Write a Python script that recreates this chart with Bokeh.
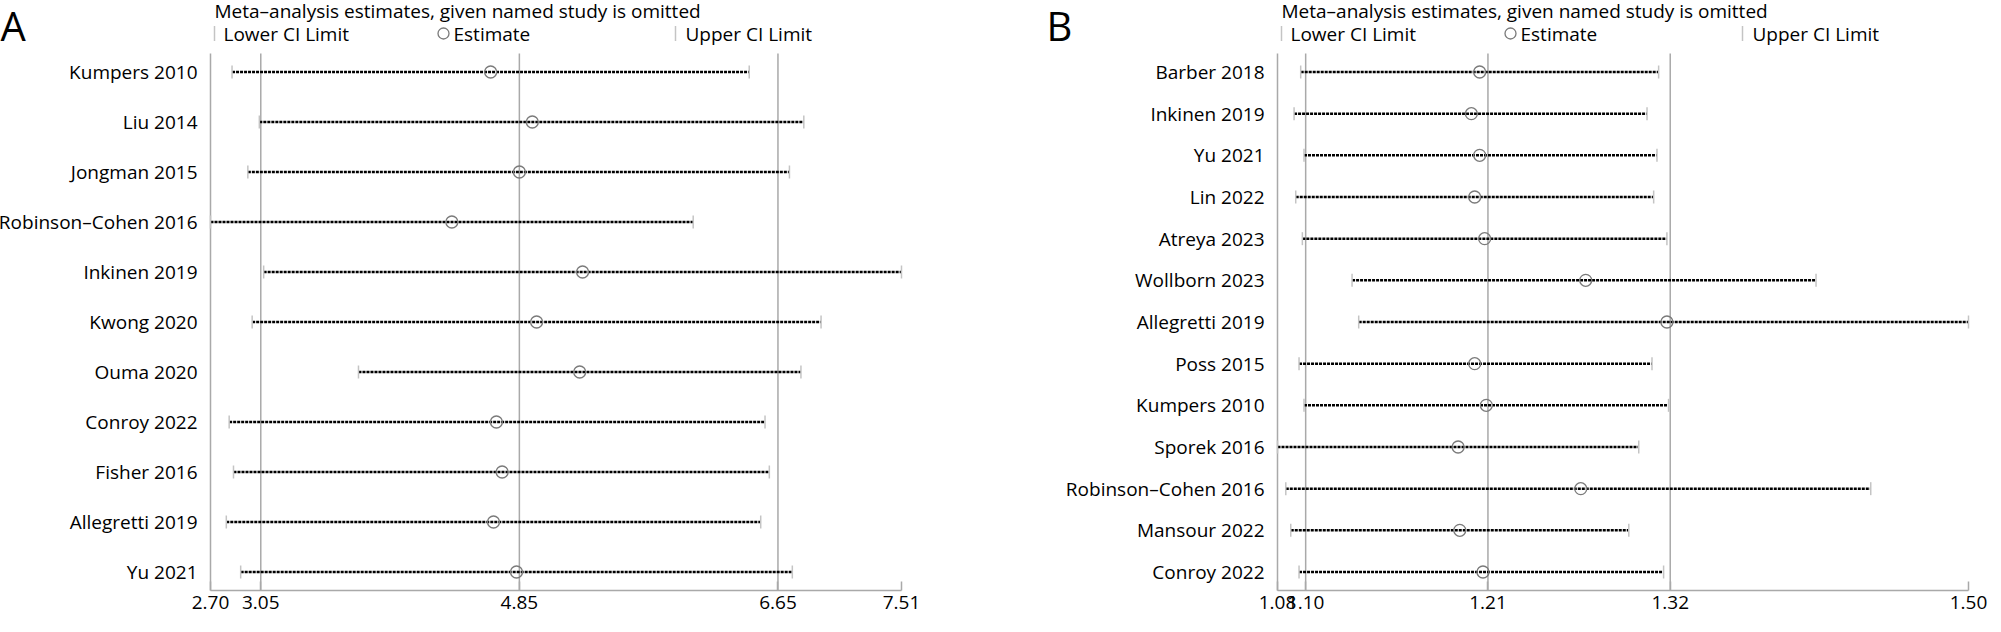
import math
from bokeh.plotting import figure
from bokeh.models import Range1d, FixedTicker, PrintfTickFormatter
from bokeh.core.properties import value
from bokeh.layouts import row
from bokeh.embed import file_html
from bokeh.resources import INLINE

FONT = "Open Sans"

# ---------------- data ----------------
title_text = "Meta\u2013analysis estimates, given named study is omitted"
legend_labels = ["Lower CI Limit", "Estimate", "Upper CI Limit"]

a_studies = ["Kumpers 2010", "Liu 2014", "Jongman 2015", "Robinson\u2013Cohen 2016",
             "Inkinen 2019", "Kwong 2020", "Ouma 2020", "Conroy 2022",
             "Fisher 2016", "Allegretti 2019", "Yu 2021"]
a_lower = [2.85, 3.04, 2.96, 2.70, 3.07, 2.99, 3.73, 2.83, 2.86, 2.81, 2.91]
a_est = [4.65, 4.94, 4.85, 4.38, 5.29, 4.97, 5.27, 4.69, 4.73, 4.67, 4.83]
a_upper = [6.45, 6.83, 6.73, 6.06, 7.51, 6.95, 6.81, 6.56, 6.59, 6.53, 6.75]
a_overall = [3.05, 4.85, 6.65]

b_studies = ["Barber 2018", "Inkinen 2019", "Yu 2021", "Lin 2022", "Atreya 2023",
             "Wollborn 2023", "Allegretti 2019", "Poss 2015", "Kumpers 2010",
             "Sporek 2016", "Robinson\u2013Cohen 2016", "Mansour 2022", "Conroy 2022"]
b_lower = [1.097, 1.093, 1.099, 1.094, 1.098, 1.128, 1.132, 1.096, 1.099, 1.083, 1.088, 1.091, 1.096]
b_est = [1.205, 1.200, 1.205, 1.202, 1.208, 1.269, 1.318, 1.202, 1.209, 1.192, 1.266, 1.193, 1.207]
b_upper = [1.313, 1.306, 1.312, 1.310, 1.318, 1.408, 1.500, 1.309, 1.319, 1.301, 1.441, 1.295, 1.316]
b_overall = [1.10, 1.21, 1.32]

GRAY_LINE = "#a9a9a9"
GRAY_CAP = "#c4c4c4"
GRAY_CIRC = "#7a7a7a"
FS = "19px"


def panel(letter, studies, lower, est, upper, overall, W, bl, letter_cx):
    n = len(studies)
    H = 632
    axis_y = 598                       # canvas y of x axis
    area_top = 61                      # canvas y of top of plot area
    area_w = 691
    pad = 18.5
    sp = (axis_y - area_top - 2 * pad) / (n - 1)
    xmin, xmax = min(lower), max(upper)
    pxu = area_w / (xmax - xmin)
    ys = list(range(n))

    def xd(cx):
        return xmin + (cx - bl) / pxu

    def yd(cy):
        return (cy - area_top - pad) / sp

    p = figure(width=W, height=H, min_border_left=0, min_border_right=0,
               min_border_top=0, min_border_bottom=0,
               x_range=Range1d(xd(0), xd(W)), y_range=Range1d(yd(H), yd(0)),
               y_axis_location=None, output_backend="svg", toolbar_location=None, title=None)
    p.grid.visible = False
    p.outline_line_color = None
    p.background_fill_color = "white"
    p.border_fill_color = "white"

    ytop, ybot = yd(area_top), yd(axis_y)

    xa = p.xaxis[0]
    xa.fixed_location = ybot
    xa.ticker = FixedTicker(ticks=[xmin] + overall + [xmax])
    xa.formatter = PrintfTickFormatter(format="%.2f")
    xa.bounds = (xmin, xmax)
    xa.axis_line_color = GRAY_LINE
    xa.axis_line_width = 1.5
    xa.major_tick_in = 9
    xa.major_tick_out = 0
    xa.major_tick_line_color = GRAY_LINE
    xa.major_tick_line_width = 1.5
    xa.minor_tick_line_color = None
    xa.major_label_text_font = FONT
    xa.major_label_text_font_size = FS
    xa.major_label_text_color = "black"
    xa.major_label_standoff = 5

    # reference lines for the overall estimate and its CI, plus left axis line
    vx = [xmin] + overall
    p.segment(x0=vx, x1=vx, y0=[ytop] * len(vx), y1=[ybot] * len(vx),
              line_color=GRAY_LINE, line_width=1.5)

    # study rows
    p.segment(x0=lower, y0=ys, x1=upper, y1=ys, line_color="black",
              line_width=2.5, line_dash="3 1")
    p.scatter(x=lower + upper, y=ys + ys, marker="dash", angle=math.pi / 2, size=13,
              line_color=GRAY_CAP, line_width=1.5)
    p.scatter(x=est, y=ys, marker="circle", size=12, fill_color=None,
              line_color=GRAY_CIRC, line_width=1.3)

    # row labels
    p.text(x=[xd(bl - 13)] * n, y=ys, text=studies, text_font=value(FONT),
           text_font_size=value(FS), text_color="black", text_align="right",
           text_baseline="middle")

    # panel letter and title
    p.text(x=[xd(letter_cx)], y=[yd(33)], text=[letter], text_font=value(FONT),
           text_font_size=value("40px"), text_color="black", text_align="left",
           text_baseline="middle")
    p.text(x=[xd(bl + 4)], y=[yd(18)], text=[title_text], text_font=value(FONT),
           text_font_size=value(FS), text_color="black", text_align="left",
           text_baseline="middle")

    # legend row
    ly = yd(41)
    p.scatter(x=[xd(bl + 4), xd(bl + 465)], y=[ly] * 2, marker="dash",
              angle=math.pi / 2, size=15, line_color=GRAY_CAP, line_width=1.5)
    p.scatter(x=[xd(bl + 233)], y=[ly], marker="circle", size=11,
              fill_color=None, line_color=GRAY_CIRC, line_width=1.3)
    p.text(x=[xd(bl + 13), xd(bl + 243), xd(bl + 475)], y=[ly] * 3,
           text=legend_labels, text_font=value(FONT), text_font_size=value(FS),
           text_color="black", text_align="left", text_baseline="middle")
    return p


pa = panel("A", a_studies, a_lower, a_est, a_upper, a_overall, 1000, 218, 8)
pb = panel("B", b_studies, b_lower, b_est, b_upper, b_overall, 1001, 285, 54)

# negative margin cancels the page's 8px body margin so the canvas covers the window
layout = row(pa, pb, margin=(-8, -8, -8, -8))
open("out.html", "w").write(file_html(layout, INLINE))
